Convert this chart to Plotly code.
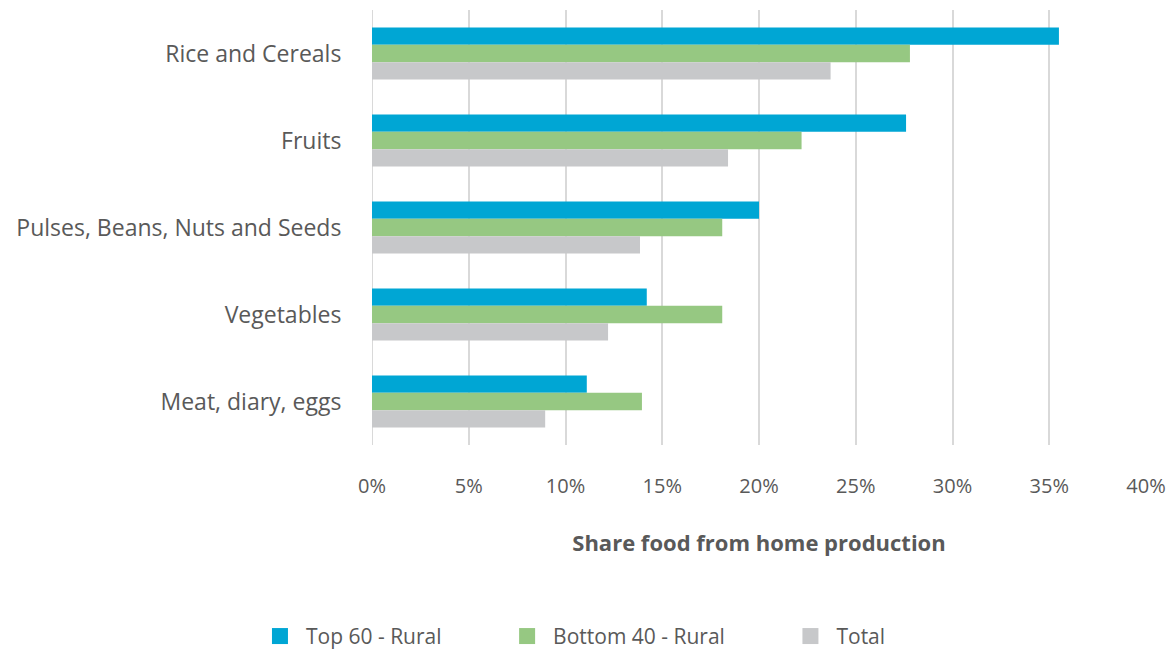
import plotly.graph_objects as go

categories = ["Rice and Cereals", "Fruits", "Pulses, Beans, Nuts and Seeds", "Vegetables", "Meat, diary, eggs"]
top60_rural = [35.5, 27.6, 20.0, 14.2, 11.1]
bottom40_rural = [27.8, 22.2, 18.1, 18.1, 13.95]
total = [23.7, 18.4, 13.85, 12.2, 8.95]
tick_vals = [0, 5, 10, 15, 20, 25, 30, 35, 40]
tick_text = ["0%", "5%", "10%", "15%", "20%", "25%", "30%", "35%", "40%"]

series = [
    ("Top 60 - Rural", top60_rural, "#00A6D4"),
    ("Bottom 40 - Rural", bottom40_rural, "#96C882"),
    ("Total", total, "#C7C8CA"),
]

fig = go.Figure()
for name, vals, color in series:
    fig.add_trace(go.Bar(y=categories, x=vals, name=name, orientation="h",
                         showlegend=False,
                         marker=dict(color=color, line=dict(width=0))))
# legend entries with larger square swatches
pad = "\u00a0" * 10
for i, (name, vals, color) in enumerate(series):
    fig.add_trace(go.Scatter(x=[None], y=[None], mode="markers", name=name + (pad if i < 2 else ""),
                             marker=dict(symbol="square", size=22, color=color),
                             showlegend=True, hoverinfo="skip"))

font_family = "Open Sans, Lato, sans-serif"
fig.update_layout(
    width=1176, height=653,
    barmode="group", bargap=0.4, bargroupgap=0,
    plot_bgcolor="white", paper_bgcolor="white",
    margin=dict(l=364, r=38, t=2, b=216, autoexpand=False),
    font=dict(family=font_family, color="#595959", size=18),
    xaxis=dict(range=[0, 40], tickvals=tick_vals, ticktext=tick_text,
               showgrid=True, gridcolor="#D9D9D9", gridwidth=2,
               zeroline=False, showline=False, automargin=False,
               ticks="outside", ticklen=23, tickcolor="rgba(0,0,0,0)",
               tickfont=dict(size=20, color="#595959"),
               title=dict(text="<b>Share food from home production</b>",
                          font=dict(size=22, color="#595959"), standoff=37)),
    yaxis=dict(autorange="reversed", showgrid=False, zeroline=False, showline=False,
               automargin=False,
               ticks="outside", ticklen=25, tickcolor="rgba(0,0,0,0)",
               tickfont=dict(size=23, color="#595959")),
    legend=dict(orientation="h", x=0.259, xanchor="center", xref="paper",
                y=-0.44, yanchor="middle", font=dict(size=21, color="#595959"),
                traceorder="normal", itemsizing="trace", itemwidth=42),
)
fig.add_shape(type="line", x0=0, x1=0, y0=0, y1=1, yref="paper", xref="x",
              line=dict(color="#D9D9D9", width=2), layer="below")

fig.write_html("out.html")
